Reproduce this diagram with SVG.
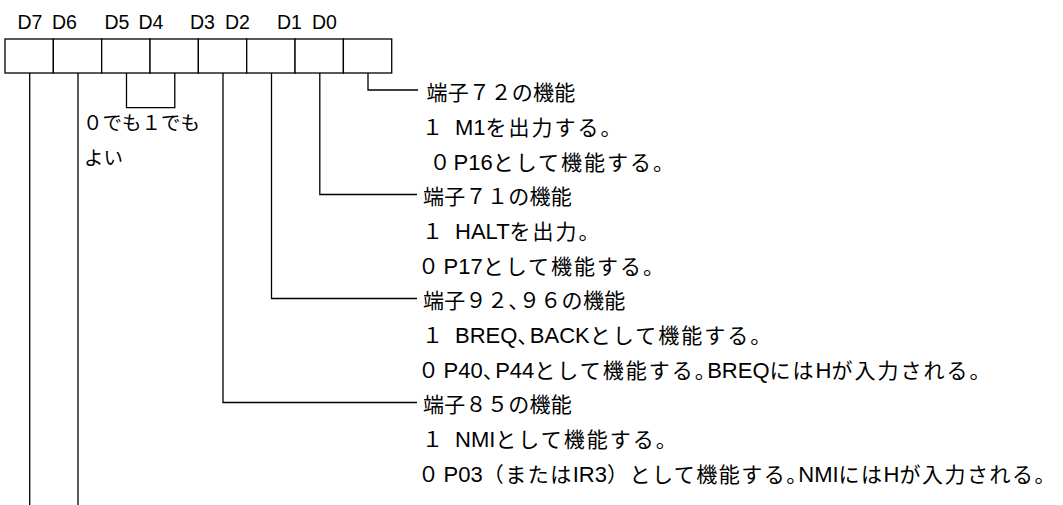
<svg xmlns="http://www.w3.org/2000/svg" width="1063" height="505" viewBox="0 0 1063 505">
<style>
.ln{fill:none;stroke:#000;stroke-width:1.3}
.box{fill:#fff;stroke:#000;stroke-width:1.3}
.lbl{font-family:"Liberation Sans","Noto Sans CJK JP",sans-serif;font-size:19.5px;fill:#000}
.h{font-family:"Liberation Sans","Noto Sans CJK JP",sans-serif;font-size:21px;letter-spacing:0.3px;fill:#000}
.b{font-family:"Liberation Sans","Noto Sans CJK JP",sans-serif;font-size:21px;letter-spacing:2px;fill:#000}
.last{letter-spacing:1.5px}
.lt{font-size:22px;letter-spacing:0}
.hw{font-feature-settings:"halt" 1}
.n{font-family:"Liberation Sans","Noto Sans CJK JP",sans-serif;font-size:19.5px;fill:#000}
</style>
<rect width="1063" height="505" fill="#fff"/>
<g id="register">
  <g id="bit7"><rect class="box" x="5" y="39" width="48.34" height="34"/><text class="lbl" x="17.5" y="29.3">D7</text></g>
  <g id="bit6"><rect class="box" x="53.34" y="39" width="48.34" height="34"/><text class="lbl" x="52" y="29.3">D6</text></g>
  <g id="bit5"><rect class="box" x="101.68" y="39" width="48.34" height="34"/><text class="lbl" x="104.5" y="29.3">D5</text></g>
  <g id="bit4"><rect class="box" x="150.02" y="39" width="48.34" height="34"/><text class="lbl" x="138.5" y="29.3">D4</text></g>
  <g id="bit3"><rect class="box" x="198.36" y="39" width="48.34" height="34"/><text class="lbl" x="190" y="29.3">D3</text></g>
  <g id="bit2"><rect class="box" x="246.7" y="39" width="48.34" height="34"/><text class="lbl" x="225" y="29.3">D2</text></g>
  <g id="bit1"><rect class="box" x="295.04" y="39" width="48.34" height="34"/><text class="lbl" x="277" y="29.3">D1</text></g>
  <g id="bit0"><rect class="box" x="343.38" y="39" width="48.34" height="34"/><text class="lbl" x="312" y="29.3">D0</text></g>
</g>
<g id="connectors">
  <path class="ln" d="M29.7 73V505"/>
  <path class="ln" d="M78 73V505"/>
  <path class="ln" d="M126.5 73V107.7H174.8V73"/>
  <path class="ln" d="M223 73V402.5H417"/>
  <path class="ln" d="M271.5 73V298.5H417"/>
  <path class="ln" d="M319.8 73V194.5H417"/>
  <path class="ln" d="M368 73V90H418"/>
</g>
<g id="note-d5d4">
  <text class="n" x="83" y="129.5">０でも１でも</text>
  <text class="n" x="84" y="165">よい</text>
</g>
<g id="pin72">
  <text class="h" x="426.5" y="100.2">端子７２の機能</text>
  <text class="b" y="134.9"><tspan x="422">１</tspan><tspan x="455" class="lt">M1</tspan>を出力する。</text>
  <text class="b" y="169.5"><tspan x="429.5">０</tspan><tspan x="453.5" class="lt">P16</tspan>として機能する。</text>
</g>
<g id="pin71">
  <text class="h" x="423" y="204.2">端子７１の機能</text>
  <text class="b" y="238.9"><tspan x="422">１</tspan><tspan x="455" class="lt">HALT</tspan>を出力。</text>
  <text class="b" y="273.5"><tspan x="418">０</tspan><tspan x="443.5" class="lt">P17</tspan>として機能する。</text>
</g>
<g id="pin92-96">
  <text class="h" x="423" y="308.2">端子９２<tspan class="hw">、</tspan>９６の機能</text>
  <text class="b" y="342.9"><tspan x="422">１</tspan><tspan x="455" class="lt">BREQ</tspan><tspan class="hw">、</tspan><tspan class="lt">BACK</tspan>として機能する。</text>
  <text class="b" y="377.5"><tspan x="418">０</tspan><tspan x="443.5" class="lt">P40</tspan><tspan class="hw">、</tspan><tspan class="lt">P44</tspan>として機能する<tspan class="hw">。</tspan><tspan class="lt">BREQ</tspan>には<tspan class="lt">H</tspan>が入力される。</text>
</g>
<g id="pin85">
  <text class="h" x="423" y="412.2">端子８５の機能</text>
  <text class="b" y="446.9"><tspan x="422">１</tspan><tspan x="455" class="lt">NMI</tspan>として機能する。</text>
  <text class="b last" y="481.5"><tspan x="418">０</tspan><tspan x="443.5" class="lt">P03</tspan>（または<tspan class="lt">IR3</tspan>）として機能する<tspan class="hw">。</tspan><tspan class="lt">NMI</tspan>には<tspan class="lt">H</tspan>が入力される。</text>
</g>
</svg>
